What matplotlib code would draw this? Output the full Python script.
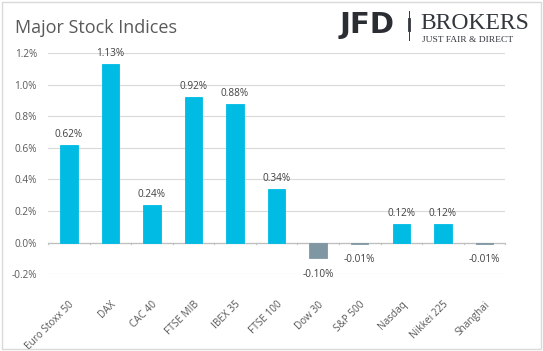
import numpy as np
import matplotlib.pyplot as plt
from matplotlib.patches import Rectangle

indices = ["Euro Stoxx 50", "DAX", "CAC 40", "FTSE MIB", "IBEX 35", "FTSE 100",
           "Dow 30", "S&P 500", "Nasdaq", "Nikkei 225", "Shanghai"]
changes = [0.62, 1.13, 0.24, 0.92, 0.88, 0.34, -0.10, -0.01, 0.12, 0.12, -0.01]
yticks = [-0.2, 0.0, 0.2, 0.4, 0.6, 0.8, 1.0, 1.2]

plt.rcParams["font.family"] = ["Open Sans", "DejaVu Sans"]
txt = "#595959"

fig = plt.figure(figsize=(5.43, 3.51), dpi=100)
fig.patches.append(Rectangle((2 / 543, 2 / 351), 539 / 543, 347 / 351, transform=fig.transFigure,
                             fill=False, edgecolor="#d9d9d9", lw=1))
ax = fig.add_axes([0.0884, 0.219, 0.842, 0.630])

x = np.arange(len(indices))
colors = ["#00bce4" if v >= 0 else "#7f97a3" for v in changes]
ax.bar(x, changes, width=0.42, color=colors, edgecolor=colors, lw=0.6, zorder=3)

for xi, v in zip(x, changes):
    if v >= 0:
        ax.text(xi, v + 0.03, f"{v:.2f}%", ha="center", va="bottom", fontsize=7.2, color="#404040")
    else:
        ax.text(xi, v - 0.065, f"{v:.2f}%", ha="center", va="top", fontsize=7.2, color="#404040")

ax.set_xlim(-0.5, len(indices) - 0.5)
ax.set_ylim(-0.2, 1.2)
ax.set_yticks(yticks)
ax.set_yticklabels([f"{t:.1f}%" for t in yticks])
ax.grid(axis="y", color="#d9d9d9", lw=0.8, zorder=0)
ax.axhline(0, color="#bfbfbf", lw=0.9, zorder=2)
for s in ax.spines.values():
    s.set_visible(False)
ax.tick_params(axis="y", length=0, labelsize=7.2, labelcolor=txt, pad=8)
ax.set_xticks(x)
ax.set_xticklabels(indices, rotation=45, ha="right", rotation_mode="anchor")
ax.tick_params(axis="x", length=0, labelsize=7.2, labelcolor=txt, pad=18)
# small category separators on the zero line
for b in np.arange(-0.5, len(indices), 1.0):
    ax.plot([b, b], [0, -0.012], color="#bfbfbf", lw=0.8, zorder=2, clip_on=False)

fig.text(0.028, 0.906, "Major Stock Indices", fontsize=13, color=txt, va="baseline", ha="left")

# logo
logo = "#33373d"
fig.text(0.626, 0.906, "JFD", fontsize=21, fontweight="heavy", color="#2a2e33", va="baseline", ha="left",
         family="DejaVu Sans")
fig.lines.append(plt.Line2D([0.7535, 0.7535], [0.885, 0.968], transform=fig.transFigure, color=logo, lw=0.7))
fig.lines.append(plt.Line2D([0.7535, 0.7535], [0.915, 0.945], transform=fig.transFigure, color=logo, lw=2.0))
fig.text(0.775, 0.918, "BROKERS", fontsize=17, color=logo, va="baseline", ha="left",
         family="Liberation Serif")
fig.text(0.777, 0.879, "JUST FAIR & DIRECT", fontsize=6.8, color=logo, va="baseline", ha="left",
         family="Liberation Serif")

plt.savefig("out.png", dpi=100)
